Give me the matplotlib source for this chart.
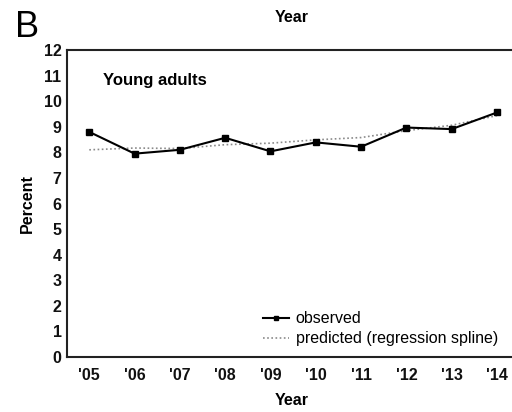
import numpy as np
import matplotlib.pyplot as plt

plt.rcParams['font.family'] = ['Liberation Sans', 'DejaVu Sans']

years = ["'05", "'06", "'07", "'08", "'09", "'10", "'11", "'12", "'13", "'14"]
observed = [8.80, 7.95, 8.10, 8.57, 8.04, 8.39, 8.22, 8.97, 8.91, 9.56]
predicted = [8.10, 8.17, 8.15, 8.30, 8.36, 8.49, 8.58, 8.85, 9.06, 9.44]

x = np.arange(len(years))

fig = plt.figure(figsize=(5.12, 4.12), dpi=100)
ax = fig.add_axes([0.131, 0.1335, 0.884, 0.745])

ax.plot(x, predicted, linestyle=(0, (1, 1.5)), color='#8a8a8a', lw=1.2,
        label='predicted (regression spline)')
ax.plot(x, observed, color='black', lw=1.5, marker='s', markersize=4.5,
        label='observed')

ax.set_xlim(-0.49, len(years) - 0.5)
ax.set_ylim(0, 12)
ax.set_yticks(range(0, 13))
ax.set_xticks(x)
ax.set_xticklabels(years)
ax.tick_params(length=0, labelsize=11.5)
ax.tick_params(axis='y', pad=4)
ax.tick_params(axis='x', pad=8)
for lab in ax.get_xticklabels() + ax.get_yticklabels():
    lab.set_fontweight('bold')
    lab.set_color('#111111')

for side in ['left', 'bottom', 'top']:
    ax.spines[side].set_linewidth(1.5)
    ax.spines[side].set_color('#222222')
ax.spines['right'].set_visible(False)

ax.text(0.31, 10.8, 'Young adults', fontsize=12, fontweight='bold',
        va='center', ha='left')

handles, labels = ax.get_legend_handles_labels()
leg = ax.legend(handles[::-1], labels[::-1], loc='lower right', frameon=False,
                fontsize=11.5, handlelength=1.6, handletextpad=0.45,
                bbox_to_anchor=(0.952, 0.035), borderaxespad=0, borderpad=0,
                labelspacing=0.3)
for h in leg.legend_handles:
    h.set_markersize(3.5)

ax.set_ylabel('Percent', fontsize=11.5, fontweight='bold', labelpad=6)
fig.text(0.57, 0.027, 'Year', fontsize=11.5, fontweight='bold',
         ha='center', va='center')
fig.text(0.57, 0.957, 'Year', fontsize=11.5, fontweight='bold',
         ha='center', va='center')
fig.text(0.03, 0.91, 'B', fontsize=26, ha='left', va='baseline')

fig.savefig('out.png', dpi=100)
